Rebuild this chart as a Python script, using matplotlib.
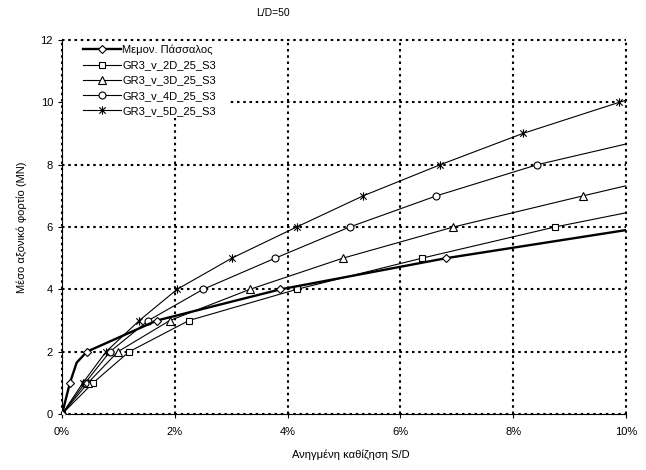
import matplotlib
matplotlib.use("Agg")
from matplotlib import pyplot as plt
from matplotlib.path import Path
from matplotlib.patches import Rectangle
from matplotlib.ticker import FuncFormatter

plt.rcParams['font.family'] = ['Liberation Sans', 'DejaVu Sans']

# settlement S/D (%) and axial load (MN)
pile_x = [0, 0.14, 0.26, 0.44, 1.68, 3.87, 6.81, 10.35]
pile_y = [0, 1, 1.65, 2, 3, 4, 5, 6]
pile_marks = [0, 1, 3, 4, 5, 6, 7]

gr2_x = [0, 0.55, 1.19, 2.25, 4.16, 6.38, 8.74, 11.5]
gr2_y = [0, 1, 2, 3, 4, 5, 6, 7]

gr3_x = [0, 0.46, 0.99, 1.91, 3.33, 4.98, 6.94, 9.24, 11.6]
gr3_y = [0, 1, 2, 3, 4, 5, 6, 7, 8]

gr4_x = [0, 0.41, 0.85, 1.53, 2.50, 3.78, 5.10, 6.64, 8.43, 10.8]
gr4_y = [0, 1, 2, 3, 4, 5, 6, 7, 8, 9]

gr5_x = [0, 0.37, 0.78, 1.37, 2.04, 3.01, 4.16, 5.34, 6.71, 8.17, 9.88, 11.7]
gr5_y = [0, 1, 2, 3, 4, 5, 6, 7, 8, 9, 10, 11]

labels = ['Μεμον. Πάσσαλος', 'GR3_v_2D_25_S3', 'GR3_v_3D_25_S3',
          'GR3_v_4D_25_S3', 'GR3_v_5D_25_S3']

star = Path([(-1, -1), (1, 1), (-1, 1), (1, -1), (0, -1.3), (0, 1.3)],
            [Path.MOVETO, Path.LINETO, Path.MOVETO, Path.LINETO,
             Path.MOVETO, Path.LINETO])

fig = plt.figure(figsize=(6.46, 4.70), dpi=100)
ax = fig.add_axes([0.096, 0.119, 0.873, 0.796])

ax.plot(pile_x, pile_y, color='black', lw=1.7, marker='D', ms=4,
        mfc='white', mec='black', mew=0.8, markevery=pile_marks,
        label=labels[0], zorder=5)
ax.plot(gr2_x, gr2_y, color='black', lw=0.8, marker='s', ms=5,
        mfc='white', mec='black', mew=0.8, label=labels[1])
ax.plot(gr3_x, gr3_y, color='black', lw=0.8, marker='^', ms=5.5,
        mfc='white', mec='black', mew=0.8, label=labels[2])
ax.plot(gr4_x, gr4_y, color='black', lw=0.8, marker='o', ms=5,
        mfc='white', mec='black', mew=0.8, label=labels[3])
ax.plot(gr5_x, gr5_y, color='black', lw=0.8, marker=star, ms=6,
        mfc='none', mec='black', mew=0.8, label=labels[4])

ax.set_xlim(0, 10)
ax.set_ylim(0, 12)
ax.set_xticks([0, 2, 4, 6, 8, 10])
ax.set_yticks([0, 2, 4, 6, 8, 10, 12])
ax.xaxis.set_major_formatter(FuncFormatter(lambda v, p: '%d%%' % v))

ax.grid(True, color='black', linestyle=(0, (1.2, 1.8)), lw=1.5)
ax.set_axisbelow(True)
for g in ax.get_xgridlines() + ax.get_ygridlines():
    g.set_clip_on(False)
for s in ['top', 'right']:
    ax.spines[s].set_visible(False)
for s in ['left', 'bottom']:
    ax.spines[s].set_linewidth(0.8)
ax.tick_params(direction='out', length=3, width=0.8, labelsize=8)
ax.tick_params(axis='x', pad=6)

ax.set_xlabel('Ανηγμένη καθίζηση S/D', fontsize=8, labelpad=8)
ax.xaxis.set_label_coords(0.0115 + 0.5, -0.095)
ax.set_ylabel('Μέσο αξονικό φορτίο (MN)', fontsize=8, labelpad=10)
fig.text(273 / 646, 1 - 13 / 470, 'L/D=50', fontsize=7.5,
         ha='center', va='center')

# white legend area hiding the grid behind it
ax.add_patch(Rectangle((0.002, 0.791), 0.296, 0.204, transform=ax.transAxes,
                       facecolor='white', edgecolor='none', zorder=1))

leg = ax.legend(loc='upper left', bbox_to_anchor=(0.037, 0.987),
                fontsize=8, frameon=False, handlelength=3.4,
                handletextpad=0.15, labelspacing=0.46, borderpad=0.0,
                borderaxespad=0.0)
leg.set_zorder(10)

fig.savefig('out.png', dpi=100)
